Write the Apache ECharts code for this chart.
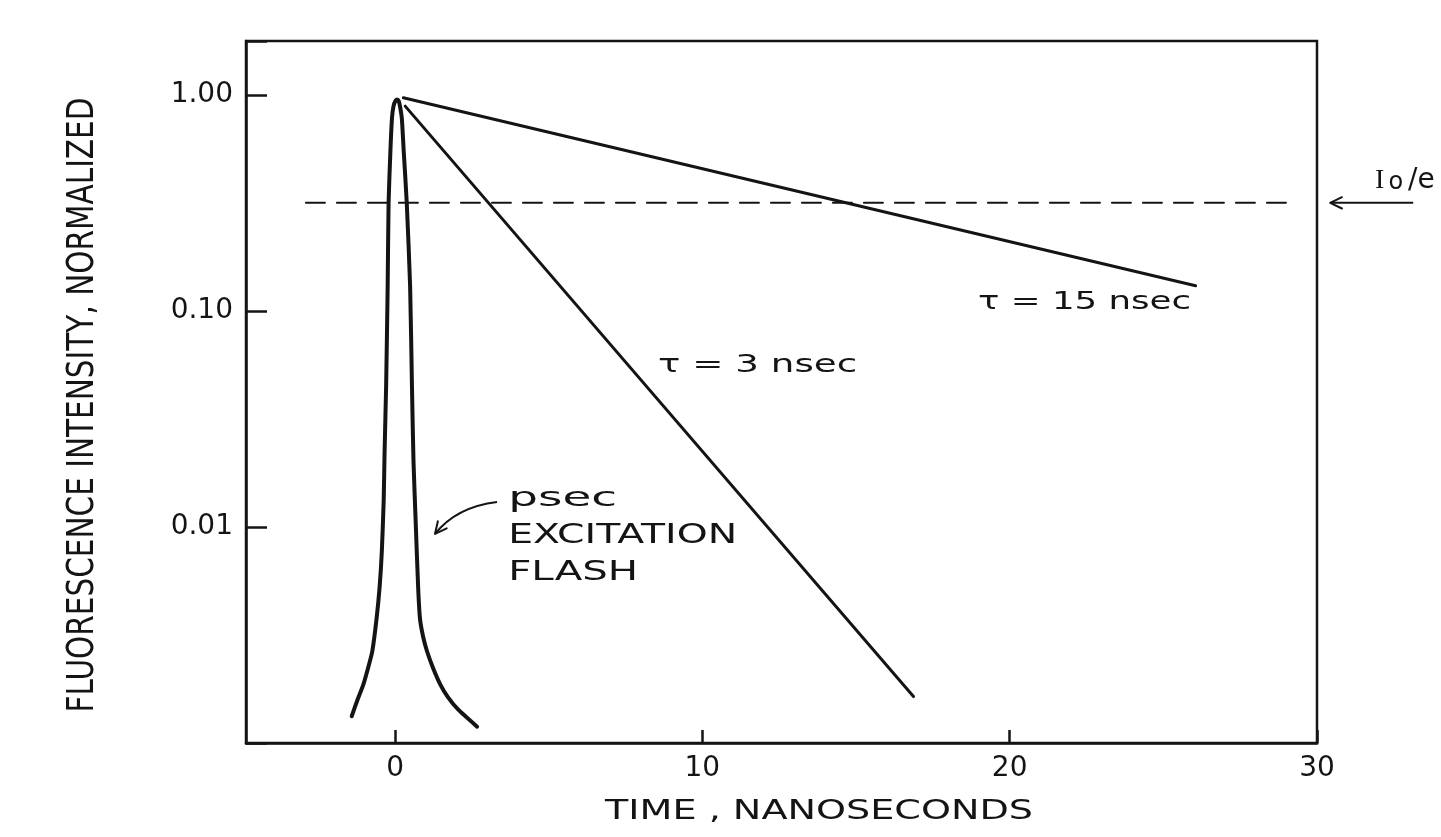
<!DOCTYPE html>
<html>
<head>
<meta charset="utf-8">
<script src="https://cdn.jsdelivr.net/npm/echarts@6/dist/echarts.min.js"></script>
<style>
  html, body { margin: 0; padding: 0; background: #ffffff; }
  #chart { width: 1441px; height: 837px; }
</style>
</head>
<body>
<div id="chart"></div>
<script>
// ---- data (time in ns, normalized fluorescence intensity) ----
const flashTime = [-1.41, -1.24, -1.03, -0.88, -0.74, -0.60, -0.50, -0.43, -0.37, -0.34, -0.29, -0.24, -0.21, -0.15, -0.10, -0.05, 0.02, 0.07, 0.12, 0.16, 0.22, 0.28, 0.38, 0.49, 0.55, 0.60, 0.67, 0.75, 0.81, 0.91, 1.04, 1.24, 1.47, 1.72, 2.05, 2.67];
const flashIntensity = [0.00133, 0.00156, 0.00187, 0.00222, 0.00266, 0.00378, 0.00532, 0.00774, 0.0132, 0.0225, 0.0451, 0.131, 0.319, 0.556, 0.782, 0.889, 0.943, 0.953, 0.938, 0.889, 0.782, 0.556, 0.319, 0.131, 0.0451, 0.0202, 0.0107, 0.00532, 0.00378, 0.00312, 0.00266, 0.00222, 0.00187, 0.00163, 0.00143, 0.00119];

const decay3Time = [0.33, 16.87];
const decay3Intensity = [0.889, 0.00164];

const decay15Time = [0.27, 26.05];
const decay15Intensity = [0.972, 0.131];

const eLevelTime = [-2.9, 29.3];
const eLevelIntensity = [0.317, 0.317];

const xTickValues = [0, 10, 20, 30];
const yTickValues = [0.01, 0.1, 1];

const xTitle = 'TIME , NANOSECONDS';
const yTitle = 'FLUORESCENCE INTENSITY, NORMALIZED';

// ---- helpers ----
const INK = '#141414';
const SANS = '"DejaVu Sans", "Liberation Sans", sans-serif';
const SERIF = '"Liberation Serif", "DejaVu Serif", serif';

function pairs(xs, ys) { return xs.map((x, i) => [x, ys[i]]); }

const measureCtx = document.createElement('canvas').getContext('2d');
function textWidth(str, size, family) {
  measureCtx.font = size + 'px ' + family;
  return measureCtx.measureText(str).width;
}

const chart = echarts.init(document.getElementById('chart'), null, { renderer: 'canvas' });

const lineSeries = (name, data, width, dash, smooth) => ({
  name, type: 'line', data, showSymbol: false, symbol: 'none', smooth: smooth || false,
  silent: true, clip: false,
  lineStyle: { color: INK, width, type: dash || 'solid', cap: 'round', join: 'round' }
});

chart.setOption({
  animation: false,
  backgroundColor: '#ffffff',
  grid: {
    left: 246, top: 41, width: 1071, height: 702,
    show: true, borderColor: INK, borderWidth: 2.5, backgroundColor: 'transparent'
  },
  xAxis: {
    type: 'value', min: -4.85, max: 30,
    axisLine: { show: true, onZero: false, lineStyle: { color: INK, width: 2.5 } },
    axisTick: { show: true, inside: true, length: 13, customValues: xTickValues, lineStyle: { color: INK, width: 2.5 } },
    axisLabel: { customValues: xTickValues, color: INK, fontFamily: SANS, fontSize: 28, margin: 12 },
    splitLine: { show: false }
  },
  yAxis: {
    type: 'log', logBase: 10, min: 0.001, max: 1.78,
    axisLine: { show: true, onZero: false, lineStyle: { color: INK, width: 2.5 } },
    axisTick: { show: true, inside: true, length: 21, lineStyle: { color: INK, width: 2.5 } },
    axisLabel: {
      color: INK, fontFamily: SANS, fontSize: 28, margin: 13,
      formatter: v => (yTickValues.some(t => Math.abs(t - v) < 1e-9) ? v.toFixed(2) : '')
    },
    splitLine: { show: false }, minorTick: { show: false }
  },
  series: [
    lineSeries('flash', pairs(flashTime, flashIntensity), 4, null, 0.2),
    lineSeries('tau3', pairs(decay3Time, decay3Intensity), 3),
    lineSeries('tau15', pairs(decay15Time, decay15Intensity), 3),
    lineSeries('eLevel', pairs(eLevelTime, eLevelIntensity), 2, [19, 12])
  ]
});

// ---- annotations, anchored in data coordinates ----
const toPx = (t, v) => chart.convertToPixel({ gridIndex: 0 }, [t, v]);

function scaledText(str, pos, size, targetWidth, align, family) {
  const fam = family || SANS;
  const sx = targetWidth ? targetWidth / textWidth(str, size, fam) : 1;
  return {
    type: 'text', x: pos[0], y: pos[1], scaleX: sx, silent: true,
    style: { text: str, fill: INK, font: size + 'px ' + fam, align: align || 'left', verticalAlign: 'middle' }
  };
}

function arrowHead(tip, from, len, spread) {
  const ang = Math.atan2(from[1] - tip[1], from[0] - tip[0]);
  const a1 = ang + spread, a2 = ang - spread;
  return {
    type: 'polyline', silent: true,
    shape: { points: [
      [tip[0] + len * Math.cos(a1), tip[1] + len * Math.sin(a1)],
      tip,
      [tip[0] + len * Math.cos(a2), tip[1] + len * Math.sin(a2)]
    ] },
    style: { stroke: INK, lineWidth: 2, fill: null, lineCap: 'round', lineJoin: 'round' }
  };
}

const elements = [];

// axis titles
const gridTop = toPx(0, 1.78)[1], gridBottom = toPx(0, 0.001)[1];
const yTitleEl = scaledText(yTitle, [83, (gridTop + gridBottom) / 2 + 13], 38, 615, 'center');
yTitleEl.rotation = Math.PI / 2;
elements.push(yTitleEl);
elements.push(scaledText(xTitle, [819, 812], 26, 428, 'center'));

// curve labels
elements.push(scaledText('τ = 3 nsec', toPx(8.56, 0.0559), 25, 199));
elements.push(scaledText('τ = 15 nsec', toPx(18.97, 0.1095), 25, 213));
elements.push(scaledText('psec', toPx(3.68, 0.0135), 27, 109));
elements.push(scaledText('EXCITATION', toPx(3.68, 0.00908), 27, 229));
elements.push(scaledText('FLASH', toPx(3.68, 0.00612), 27, 130));

// curved pointer to the excitation flash
const pStart = toPx(3.32, 0.01306);
const pCtrl = toPx(2.0, 0.0124);
const pTip = toPx(1.30, 0.00929);
elements.push({
  type: 'bezierCurve', silent: true,
  shape: { x1: pStart[0], y1: pStart[1], cpx1: pCtrl[0], cpy1: pCtrl[1], x2: pTip[0], y2: pTip[1] },
  style: { stroke: INK, lineWidth: 2, fill: null }
});
elements.push(arrowHead(pTip, pCtrl, 13, 0.45));

// I0/e marker at the right of the frame
const eTip = toPx(30.43, eLevelIntensity[0]);
const eTail = toPx(33.13, eLevelIntensity[0]);
elements.push({
  type: 'line', silent: true,
  shape: { x1: eTip[0], y1: eTip[1], x2: eTail[0], y2: eTail[1] },
  style: { stroke: INK, lineWidth: 2 }
});
elements.push(arrowHead(eTip, eTail, 13, 0.45));
const eLabel = toPx(31.89, 0.403);
elements.push({
  type: 'text', x: eLabel[0], y: eLabel[1], silent: true,
  style: {
    text: '{i|I}{o|o}{r|/e}', fill: INK, align: 'left', verticalAlign: 'middle',
    rich: {
      i: { fontFamily: SERIF, fontSize: 28, fill: INK, verticalAlign: 'bottom', lineHeight: 28, padding: [0, 4, 0, 0] },
      o: { fontFamily: SANS, fontSize: 24, fill: INK, verticalAlign: 'bottom', lineHeight: 26, padding: [0, 5, 0, 0] },
      r: { fontFamily: SANS, fontSize: 28, fill: INK, verticalAlign: 'bottom', lineHeight: 28 }
    }
  }
});

chart.setOption({ graphic: { elements } });
</script>
</body>
</html>
